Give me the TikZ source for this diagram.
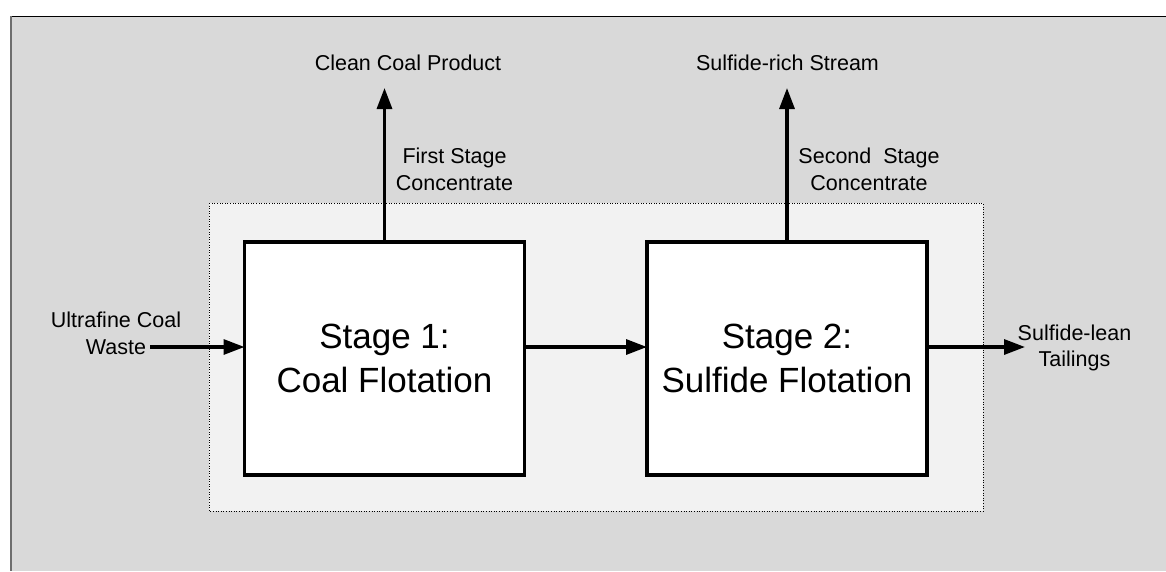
\documentclass[tikz,border=0pt]{standalone}
\usepackage{fontspec}
\setmainfont{Liberation Sans}
\usetikzlibrary{arrows.meta}
\definecolor{panelgrey}{HTML}{D9D9D9}
\definecolor{zonegrey}{HTML}{F2F2F2}
\definecolor{edgegrey}{HTML}{6E6E6E}
\tikzset{
  stagebox/.style={draw=black, fill=white, line width=3.2pt, minimum width=280pt,
    minimum height=233pt, inner sep=0pt, outer sep=0pt, align=center,
    font=\fontsize{35}{44}\selectfont},
  flow/.style={line width=3.2pt, -{Triangle[length=21pt,width=15pt]}},
  % base anchor of a two-line label sits on its last line
  lbl/.style={align=center, anchor=base, inner sep=0pt, font=\fontsize{21.5}{27}\selectfont}
}
\begin{document}
\begin{tikzpicture}[x=1pt,y=-1pt]
  \useasboundingbox (0,0) rectangle (1166,571);
  % outer panel
  \fill[white] (0,0) rectangle (1166,571);
  \fill[panelgrey] (11,16) rectangle (1166,571);
  \draw[black, line width=1pt] (11,16) -- (1166,16);
  \draw[edgegrey, line width=2pt] (11,16) -- (11,571);
  % process zone
  \fill[zonegrey] (209,203) rectangle (983,511);
  \draw[black, line width=0.6pt, dotted] (209,203) rectangle (983,511);
  % flotation stages
  \node[stagebox] (s1) at (384.5,358.5) {Stage 1:\\Coal Flotation};
  \node[stagebox] (s2) at (787,358.5) {Stage 2:\\Sulfide Flotation};
  % free ends of the stream arrows
  \coordinate (feed) at (150,347);
  \coordinate (tail) at (1025,347);
  \coordinate (top1) at (384.5,88);
  \coordinate (top2) at (787,88);
  % streams
  \draw[flow] (feed) -- (feed -| s1.west);
  \draw[flow] (s1.east |- feed) -- (s2.west |- feed);
  \draw[flow] (s2.east |- feed) -- (tail);
  \draw[flow] (s1.north) -- (top1);
  \draw[flow] (s2.north) -- (top2);
  % labels
  \node[lbl] (lfeed) at (116,354) {Ultrafine Coal\\Waste};
  \node[lbl, font=\fontsize{21.5}{26}\selectfont] (ltail) at (1074.5,366) {Sulfide-lean\\Tailings};
  \node[lbl] (lclean) at (408,70) {Clean Coal Product};
  \node[lbl] (lrich) at (787.5,70) {Sulfide-rich Stream};
  \node[lbl] (lc1) at (454.5,190) {First Stage\\Concentrate};
  \node[lbl] (lc2) at (869,190) {Second\ \ Stage\\Concentrate};
\end{tikzpicture}
\end{document}
